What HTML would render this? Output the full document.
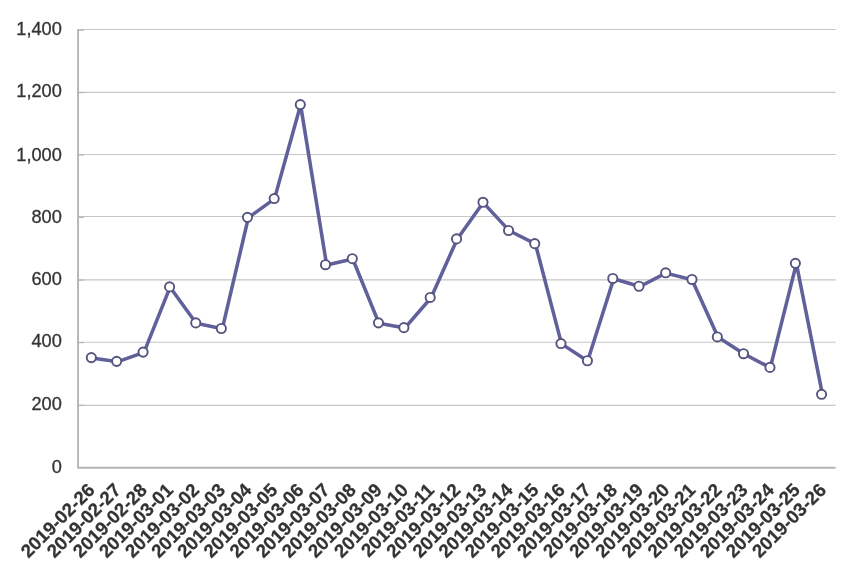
<!DOCTYPE html>
<html lang="en">
<head>
<meta charset="utf-8">
<title>Chart</title>
<style>
html,body{margin:0;padding:0;background:#fff;}
body{width:865px;height:575px;overflow:hidden;}
svg{display:block;}
text{font-family:"Liberation Sans",Arial,Helvetica,sans-serif;fill:#333333;}
.yl{font-size:18.67px;text-anchor:end;stroke:#333;stroke-width:0.3px;}
.xl{font-size:18.67px;font-weight:bold;text-anchor:end;stroke:#333;stroke-width:0.25px;}
</style>
</head>
<body>
<svg width="865" height="575" viewBox="0 0 865 575">
<rect x="0" y="0" width="865" height="575" fill="#ffffff"/>
<g stroke="#c6c6c6" stroke-width="1.1" fill="none">
<line x1="78.05" y1="29.50" x2="835.60" y2="29.50"/>
<line x1="78.05" y1="92.35" x2="835.60" y2="92.35"/>
<line x1="78.05" y1="154.50" x2="835.60" y2="154.50"/>
<line x1="78.05" y1="216.55" x2="835.60" y2="216.55"/>
<line x1="78.05" y1="279.92" x2="835.60" y2="279.92"/>
<line x1="78.05" y1="342.30" x2="835.60" y2="342.30"/>
<line x1="78.05" y1="405.35" x2="835.60" y2="405.35"/>
</g>
<g stroke="#b5b5b5" stroke-width="1.9" fill="none" stroke-linejoin="round">
<polyline points="78.05,29.00 78.05,467.75 835.60,467.75"/>
</g>
<g stroke="#b5b5b5" stroke-width="1.2" fill="none">
<line x1="78.05" y1="30.20" x2="84.05" y2="30.20"/>
<line x1="78.05" y1="92.60" x2="84.05" y2="92.60"/>
<line x1="78.05" y1="155.00" x2="84.05" y2="155.00"/>
<line x1="78.05" y1="217.40" x2="84.05" y2="217.40"/>
<line x1="78.05" y1="280.10" x2="84.05" y2="280.10"/>
<line x1="78.05" y1="342.60" x2="84.05" y2="342.60"/>
<line x1="78.05" y1="405.40" x2="84.05" y2="405.40"/>
</g>
<g>
<text class="yl" transform="translate(61.80 35.40) scale(0.975 1.02)">1,400</text>
<text class="yl" transform="translate(61.80 97.10) scale(0.975 1.02)">1,200</text>
<text class="yl" transform="translate(61.80 160.60) scale(0.975 1.02)">1,000</text>
<text class="yl" transform="translate(61.80 222.50) scale(0.975 1.02)">800</text>
<text class="yl" transform="translate(61.80 285.00) scale(0.975 1.02)">600</text>
<text class="yl" transform="translate(61.80 347.40) scale(0.975 1.02)">400</text>
<text class="yl" transform="translate(61.80 409.60) scale(0.975 1.02)">200</text>
<text class="yl" transform="translate(61.80 472.50) scale(0.975 1.02)">0</text>
</g>
<g>
<text class="xl" transform="translate(95.86 491.25) rotate(-45)">2019-02-26</text>
<text class="xl" transform="translate(121.98 491.25) rotate(-45)">2019-02-27</text>
<text class="xl" transform="translate(148.10 491.25) rotate(-45)">2019-02-28</text>
<text class="xl" transform="translate(174.22 491.25) rotate(-45)">2019-03-01</text>
<text class="xl" transform="translate(200.34 491.25) rotate(-45)">2019-03-02</text>
<text class="xl" transform="translate(226.46 491.25) rotate(-45)">2019-03-03</text>
<text class="xl" transform="translate(252.58 491.25) rotate(-45)">2019-03-04</text>
<text class="xl" transform="translate(278.70 491.25) rotate(-45)">2019-03-05</text>
<text class="xl" transform="translate(304.82 491.25) rotate(-45)">2019-03-06</text>
<text class="xl" transform="translate(330.94 491.25) rotate(-45)">2019-03-07</text>
<text class="xl" transform="translate(357.06 491.25) rotate(-45)">2019-03-08</text>
<text class="xl" transform="translate(383.18 491.25) rotate(-45)">2019-03-09</text>
<text class="xl" transform="translate(409.30 491.25) rotate(-45)">2019-03-10</text>
<text class="xl" transform="translate(435.42 491.25) rotate(-45)">2019-03-11</text>
<text class="xl" transform="translate(461.54 491.25) rotate(-45)">2019-03-12</text>
<text class="xl" transform="translate(487.66 491.25) rotate(-45)">2019-03-13</text>
<text class="xl" transform="translate(513.78 491.25) rotate(-45)">2019-03-14</text>
<text class="xl" transform="translate(539.90 491.25) rotate(-45)">2019-03-15</text>
<text class="xl" transform="translate(566.02 491.25) rotate(-45)">2019-03-16</text>
<text class="xl" transform="translate(592.14 491.25) rotate(-45)">2019-03-17</text>
<text class="xl" transform="translate(618.26 491.25) rotate(-45)">2019-03-18</text>
<text class="xl" transform="translate(644.38 491.25) rotate(-45)">2019-03-19</text>
<text class="xl" transform="translate(670.50 491.25) rotate(-45)">2019-03-20</text>
<text class="xl" transform="translate(696.62 491.25) rotate(-45)">2019-03-21</text>
<text class="xl" transform="translate(722.74 491.25) rotate(-45)">2019-03-22</text>
<text class="xl" transform="translate(748.86 491.25) rotate(-45)">2019-03-23</text>
<text class="xl" transform="translate(774.98 491.25) rotate(-45)">2019-03-24</text>
<text class="xl" transform="translate(801.10 491.25) rotate(-45)">2019-03-25</text>
<text class="xl" transform="translate(827.22 491.25) rotate(-45)">2019-03-26</text>
</g>
<polyline points="91.80,357.90 117.90,361.65 143.99,352.38 170.09,287.21 196.18,323.18 222.28,328.82 248.38,217.66 274.47,198.87 300.57,104.90 326.66,265.02 352.76,259.00 378.86,323.16 404.95,327.93 431.05,297.73 457.14,239.18 483.24,202.59 509.34,230.78 535.43,243.94 561.53,343.87 587.62,361.04 613.72,278.76 639.82,286.53 665.91,273.12 692.01,279.76 718.10,337.23 744.20,354.02 770.30,367.68 796.39,263.64 822.49,394.60" fill="none" stroke="#60609b" stroke-width="3.55" stroke-linejoin="round" stroke-linecap="round"/>
<g fill="#ffffff" stroke="#54547f" stroke-width="1.9">
<circle cx="91.33" cy="357.60" r="4.6"/>
<circle cx="116.65" cy="361.35" r="4.6"/>
<circle cx="143.08" cy="352.08" r="4.6"/>
<circle cx="169.57" cy="286.91" r="4.6"/>
<circle cx="195.76" cy="322.88" r="4.6"/>
<circle cx="221.33" cy="328.52" r="4.6"/>
<circle cx="247.48" cy="217.36" r="4.6"/>
<circle cx="274.17" cy="198.57" r="4.6"/>
<circle cx="300.30" cy="104.60" r="4.6"/>
<circle cx="325.48" cy="264.72" r="4.6"/>
<circle cx="352.29" cy="258.70" r="4.6"/>
<circle cx="378.45" cy="322.86" r="4.6"/>
<circle cx="403.88" cy="327.63" r="4.6"/>
<circle cx="430.20" cy="297.43" r="4.6"/>
<circle cx="456.54" cy="238.88" r="4.6"/>
<circle cx="482.98" cy="202.29" r="4.6"/>
<circle cx="508.54" cy="230.48" r="4.6"/>
<circle cx="534.73" cy="243.64" r="4.6"/>
<circle cx="560.98" cy="343.57" r="4.6"/>
<circle cx="587.42" cy="360.74" r="4.6"/>
<circle cx="612.79" cy="278.46" r="4.6"/>
<circle cx="638.98" cy="286.23" r="4.6"/>
<circle cx="665.67" cy="272.82" r="4.6"/>
<circle cx="691.98" cy="279.46" r="4.6"/>
<circle cx="717.32" cy="336.93" r="4.6"/>
<circle cx="743.51" cy="353.72" r="4.6"/>
<circle cx="769.95" cy="367.38" r="4.6"/>
<circle cx="795.38" cy="263.34" r="4.6"/>
<circle cx="821.57" cy="394.30" r="4.6"/>
</g>
</svg>
</body>
</html>
